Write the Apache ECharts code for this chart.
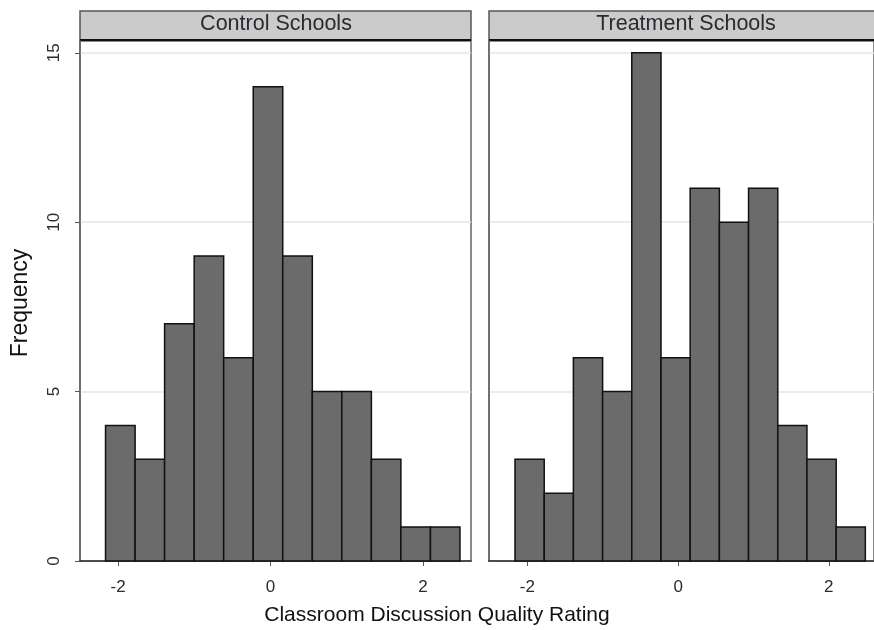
<!DOCTYPE html>
<html><head><meta charset="utf-8">
<script src="https://cdn.jsdelivr.net/npm/echarts@6/dist/echarts.min.js"></script>
<style>html,body{margin:0;padding:0;background:#fff}#c{width:874px;height:630px}</style>
</head><body><div id="c"></div>
<script>
// Histogram bin edges (shared by both panels)
var binEdges = [-2.165, -1.777, -1.39, -1.002, -0.615, -0.227, 0.16, 0.548, 0.935, 1.323, 1.71, 2.098, 2.485];
var controlCounts = [4, 3, 7, 9, 6, 14, 9, 5, 5, 3, 1, 1];
var treatmentCounts = [3, 2, 6, 5, 15, 6, 11, 10, 11, 4, 3, 1];
var panelTitles = ['Control Schools', 'Treatment Schools'];
var xTicks = [-2, 0, 2];
var yTicks = [0, 5, 10, 15];
var xTitle = 'Classroom Discussion Quality Rating';
var yTitle = 'Frequency';

function histData(counts) {
  return counts.map(function (c, i) { return [binEdges[i], binEdges[i + 1], c]; });
}
var FONT = 'Liberation Sans, Arial, sans-serif';
function renderBar(params, api) {
  var p0 = api.coord([api.value(0), 0]);
  var p1 = api.coord([api.value(1), api.value(2)]);
  return {
    type: 'rect',
    shape: { x: p0[0], y: p1[1], width: p1[0] - p0[0], height: p0[1] - p1[1] },
    style: { fill: '#6b6b6b', stroke: '#111', lineWidth: 1.5 }
  };
}
function xAxis(idx, min, max) {
  return {
    type: 'value', gridIndex: idx, min: min, max: max,
    axisLine: { show: true, onZero: false, lineStyle: { color: '#222', width: 1.5 } },
    axisTick: { show: true, customValues: xTicks, length: 5, lineStyle: { color: '#555' } },
    axisLabel: { customValues: xTicks, color: '#2a2a30', fontSize: 17, fontFamily: FONT, margin: 18 },
    splitLine: { show: false }
  };
}
function yAxis(idx, showLabels) {
  return {
    type: 'value', gridIndex: idx, min: 0, max: 15.35,
    axisLine: { show: true, onZero: false, lineStyle: { color: '#666', width: 1.5 } },
    axisTick: { show: showLabels, customValues: yTicks, length: 5, lineStyle: { color: '#555' } },
    axisLabel: { show: showLabels, customValues: yTicks, rotate: 90, color: '#2a2a30', fontSize: 17, fontFamily: FONT, margin: 17 },
    splitLine: { show: true, lineStyle: { color: '#e6e6e6', width: 1.5 } }
  };
}
var chart = echarts.init(document.getElementById('c'), null, { renderer: 'canvas' });
chart.setOption({
  animation: false,
  backgroundColor: '#fff',
  grid: [
    { left: 80, right: 403, top: 41, bottom: 69, show: true, borderColor: '#666', borderWidth: 1.5, backgroundColor: 'transparent' },
    { left: 489, right: -5, top: 41, bottom: 69, show: true, borderColor: '#666', borderWidth: 1.5, backgroundColor: 'transparent' }
  ],
  xAxis: [xAxis(0, -2.5, 2.63), xAxis(1, -2.51, 2.6)],
  yAxis: [yAxis(0, true), yAxis(1, false)],
  series: [
    { type: 'custom', xAxisIndex: 0, yAxisIndex: 0, renderItem: renderBar, encode: { x: [0, 1], y: 2 }, data: histData(controlCounts) },
    { type: 'custom', xAxisIndex: 1, yAxisIndex: 1, renderItem: renderBar, encode: { x: [0, 1], y: 2 }, data: histData(treatmentCounts) }
  ],
  graphic: [
    { type: 'rect', shape: { x: 80, y: 11, width: 391, height: 29 }, style: { fill: '#cbcbcb', stroke: '#555', lineWidth: 1.5 } },
    { type: 'line', shape: { x1: 80, y1: 40, x2: 471, y2: 40 }, style: { stroke: '#111', lineWidth: 2 } },
    { type: 'text', x: 276, y: 24.5, style: { text: panelTitles[0], fill: '#2a2a30', font: '21.5px ' + FONT, align: 'center', verticalAlign: 'middle' } },
    { type: 'rect', shape: { x: 489, y: 11, width: 400, height: 29 }, style: { fill: '#cbcbcb', stroke: '#555', lineWidth: 1.5 } },
    { type: 'line', shape: { x1: 489, y1: 40, x2: 874, y2: 40 }, style: { stroke: '#111', lineWidth: 2 } },
    { type: 'text', x: 686, y: 24.5, style: { text: panelTitles[1], fill: '#2a2a30', font: '21.5px ' + FONT, align: 'center', verticalAlign: 'middle' } },
    { type: 'text', x: 437, y: 615, style: { text: xTitle, fill: '#111', font: '21px ' + FONT, align: 'center', verticalAlign: 'middle' } },
    { type: 'text', x: 21, y: 303, rotation: Math.PI / 2, style: { text: yTitle, fill: '#111', font: '23px ' + FONT, align: 'center', verticalAlign: 'middle' } }
  ]
});
</script></body></html>
